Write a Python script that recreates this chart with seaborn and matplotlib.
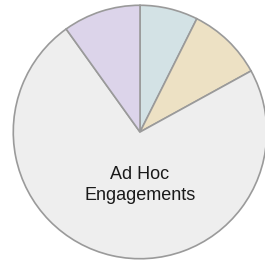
import matplotlib
matplotlib.use("Agg")
import matplotlib.pyplot as plt
import seaborn as sns

# slice data, clockwise from 12 o'clock
categories = ['Other A', 'Other B', 'Ad Hoc Engagements', 'Other C']
shares = [7.4, 9.6, 73.1, 9.9]
colors = ['#d3e2e5', '#ede1c4', '#eeeeee', '#dcd4ea']
labels = ['', '', 'Ad Hoc\nEngagements', '']

sns.set_style("white")
plt.rcParams['font.family'] = ['Liberation Sans', 'DejaVu Sans']

fig = plt.figure(figsize=(2.65, 2.64), dpi=100)
ax = fig.add_axes([12 / 265, 4 / 264, 256 / 265, 256 / 264])

ax.pie(shares, colors=colors, startangle=90, counterclock=False,
       radius=1.0, wedgeprops={'edgecolor': '#9a9a9a', 'linewidth': 1.2})

# label for the large slice
ax.text(0, -0.42, labels[2], ha='center', va='center', fontsize=13,
        color='#1a1a1a', linespacing=1.3)

ax.set_xlim(-1.01, 1.01)
ax.set_ylim(-1.01, 1.01)
ax.set_aspect('equal')
ax.axis('off')

fig.savefig('out.png', dpi=100)
